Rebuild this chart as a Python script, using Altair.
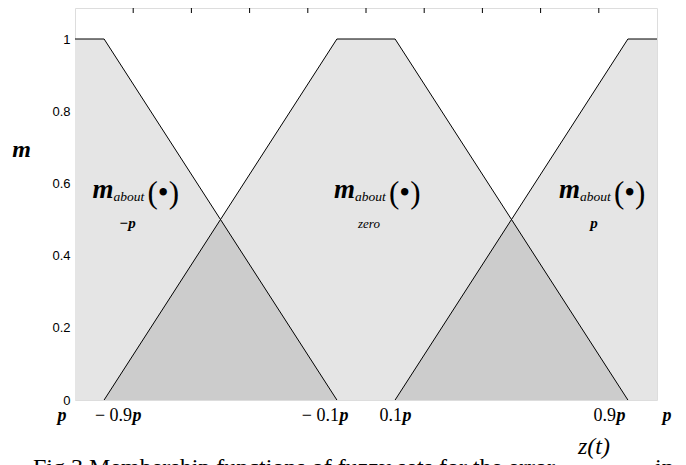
import altair as alt
import pandas as pd

# ---------------- data (x in units of p) ----------------
about_neg_x = [-1.0, -0.9, -0.1]
about_neg_m = [1.0, 1.0, 0.0]
about_zero_x = [-0.9, -0.1, 0.1, 0.9]
about_zero_m = [0.0, 1.0, 1.0, 0.0]
about_pos_x = [0.1, 0.9, 1.0]
about_pos_m = [0.0, 1.0, 1.0]

overlap_left_x = [-0.9, -0.5, -0.1]
overlap_left_m = [0.0, 0.5, 0.0]
overlap_right_x = [0.1, 0.5, 0.9]
overlap_right_m = [0.0, 0.5, 0.0]

y_ticks = [0, 0.2, 0.4, 0.6, 0.8, 1.0]
top_ticks = [-0.8, -0.6, -0.4, -0.2, 0.0, 0.2, 0.4, 0.6, 0.8]
x_label_values = [-1.0, -0.9, -0.1, 0.1, 0.9, 1.0]
x_label_numbers = ["", "\u2212 0.9", "\u2212 0.1", "0.1", "0.9", ""]
x_label_symbol = ["p", "p", "p", "p", "p", "p"]

ann_x = [-0.94, -0.11, 0.663]
ann_m = [0.56, 0.56, 0.56]
ann_main = ["m", "m", "m"]
ann_about = ["about", "about", "about"]
ann_sub = ["\u2212p", "zero", "p"]

# ---------------- styling ----------------
W, H = 582, 392
Y_MAX = 1.0859
LIGHT = "#e5e5e5"
DARK = "#cccccc"
SERIF = "Liberation Serif"
SANS = "Liberation Sans"
P_DX = [-13, 33, 7, 12, -7, 10]          # pixel offsets of the bold "p" glyphs
SUB_STYLE = [("italic", "bold", 15), ("italic", "normal", 13), ("italic", "bold", 15)]

xs = alt.Scale(domain=[-1, 1], nice=False, zero=False)
ys = alt.Scale(domain=[0, Y_MAX], nice=False, zero=False)


def frame(xv, mv):
    return pd.DataFrame({"x": xv, "m": mv})


XA = alt.X("x:Q", scale=xs, axis=None)
Y = alt.Y("m:Q", scale=ys, stack=False, axis=alt.Axis(
    values=y_ticks, format="~g", labelFont=SANS, labelFontSize=13, labelColor="black",
    ticks=False, domain=False, grid=False, labelPadding=5,
    title="m", titleAngle=0, titleFont=SERIF, titleFontSize=24, titleFontStyle="italic",
    titleFontWeight="bold", titleColor="black", titleX=-54, titleY=141,
    titleAlign="center", titleBaseline="middle"))
YP = alt.Y("m:Q", scale=ys, stack=False)

func_frames = [frame(about_neg_x, about_neg_m), frame(about_zero_x, about_zero_m),
               frame(about_pos_x, about_pos_m)]
overlap_frames = [frame(overlap_left_x, overlap_left_m), frame(overlap_right_x, overlap_right_m)]

layers = []
for i, f in enumerate(func_frames):
    layers.append(alt.Chart(f).mark_area(color=LIGHT, opacity=1, orient="vertical").encode(
        x=XA, y=(Y if i == 0 else YP)))
for f in overlap_frames:
    layers.append(alt.Chart(f).mark_area(color=DARK, opacity=1, orient="vertical").encode(
        x=XA, y=YP))
for f in func_frames:
    layers.append(alt.Chart(f).mark_line(color="black", strokeWidth=1, orient="vertical").encode(
        x=XA, y=YP))

layers.append(alt.Chart(pd.DataFrame({"x": top_ticks})).mark_rule(
    color="black", strokeWidth=1).encode(x=XA, y=alt.value(0), y2=alt.value(5)))

# bottom labels
for v, num, sym, dx in zip(x_label_values, x_label_numbers, x_label_symbol, P_DX):
    d = pd.DataFrame({"x": [v], "num": [num], "sym": [sym]})
    if num:
        layers.append(alt.Chart(d).mark_text(
            font=SERIF, fontSize=18, color="black", align="right", baseline="alphabetic",
            dx=dx - 5).encode(x=XA, y=alt.value(413), text="num:N"))
    layers.append(alt.Chart(d).mark_text(
        font=SERIF, fontSize=18, fontStyle="italic", fontWeight="bold", color="black",
        align="center", baseline="alphabetic", dx=dx).encode(
        x=XA, y=alt.value(413), text="sym:N"))

# annotations
for xv, mv, mm, ab, sub, (fs, fw, fz) in zip(ann_x, ann_m, ann_main, ann_about, ann_sub, SUB_STYLE):
    d = pd.DataFrame({"x": [xv], "m": [mv], "main": [mm], "about": [ab], "sub": [sub],
                      "arg": ["(\u2022)"]})
    enc = dict(x=XA, y=YP)
    layers.append(alt.Chart(d).mark_text(font=SERIF, fontSize=27, fontStyle="italic",
                                         fontWeight="bold", color="black", align="left",
                                         baseline="alphabetic").encode(text="main:N", **enc))
    layers.append(alt.Chart(d).mark_text(font=SERIF, fontSize=13.5, fontStyle="italic",
                                         color="black", align="left", baseline="alphabetic",
                                         dx=21, dy=3).encode(text="about:N", **enc))
    layers.append(alt.Chart(d).mark_text(font=SERIF, fontSize=31, color="black", align="left",
                                         baseline="alphabetic", dx=55, dy=5).encode(text="arg:N", **enc))
    layers.append(alt.Chart(d).mark_text(font=SERIF, fontSize=fz, fontStyle=fs, fontWeight=fw,
                                         color="black", align="center", baseline="alphabetic",
                                         dx=35, dy=30).encode(text="sub:N", **enc))

# caption
cap = pd.DataFrame({"t": ["Fig.3    Membership  functions  of  fuzzy  sets  for  the  error"],
                    "z": ["z(t)"], "tail": ["in"]})
layers.append(alt.Chart(cap).mark_text(font=SERIF, fontSize=24, color="black", align="left",
                                       baseline="alphabetic").encode(
    x=alt.value(-42), y=alt.value(467), text="t:N"))
layers.append(alt.Chart(cap).mark_text(font=SERIF, fontSize=24, fontStyle="italic", color="black",
                                       align="center", baseline="alphabetic").encode(
    x=alt.value(594 - 75), y=alt.value(446), text="z:N"))
layers.append(alt.Chart(cap).mark_text(font=SERIF, fontSize=24, color="black", align="left",
                                       baseline="alphabetic").encode(
    x=alt.value(655 - 75), y=alt.value(467), text="tail:N"))

chart = alt.layer(*layers).properties(
    width=W, height=H,
    autosize=alt.AutoSizeParams(type="none"),
    padding={"left": 67, "top": 0, "right": 21, "bottom": 65},
).configure_view(stroke="black", strokeWidth=1.5).configure(background="white")

chart.save("out.html", embed_options={"renderer": "svg", "actions": False})
